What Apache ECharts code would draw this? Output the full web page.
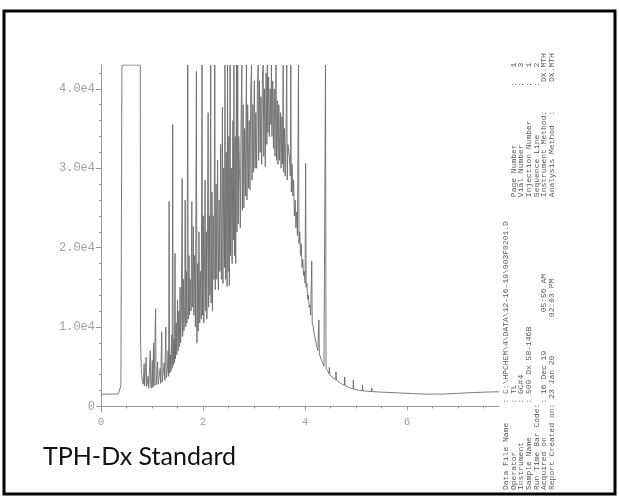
<!DOCTYPE html>
<html>
<head>
<meta charset="utf-8">
<script src="https://cdn.jsdelivr.net/npm/echarts@6/dist/echarts.min.js"></script>
<style>
html,body{margin:0;padding:0;background:#fff;}
#c{width:619px;height:499px;}
</style>
</head>
<body>
<div id="c"></div>
<script>
// ---- data (retention time in min, detector signal) ----
var times = [0.00,0.30,0.34,0.37,0.39,0.41,0.77,0.775,0.79,0.80,
0.81,0.83,0.845,0.855,0.87,0.885,0.895,0.91,0.925,0.935,0.95,0.965,0.975,0.99,1.005,1.015,1.03,1.04,1.055,1.07,1.08,1.095,1.11,1.12,1.14,1.16,1.17,1.19,1.20,1.22,1.24,1.25,1.27,1.28,1.30,1.315,1.325,1.335,1.345,1.36,1.37,1.385,1.395,1.405,1.415,1.43,1.44,1.45,1.46,1.475,1.485,1.50,1.51,1.525,1.535,1.55,1.56,1.575,1.59,1.60,1.615,1.625,1.64,1.65,1.66,1.675,1.685,1.70,1.71,1.725,1.735,1.75,1.765,1.78,1.79,1.81,1.82,1.835,1.85,1.87,1.88,1.895,1.905,1.92,1.935,1.95,1.965,1.98,1.99,2.005,2.015,2.03,2.04,2.05,2.065,2.075,2.09,2.10,2.11,2.125,2.135,2.15,2.16,2.175,2.185,2.20,2.215,2.23,2.24,2.255,2.27,2.285,2.30,2.315,2.33,2.345,2.36,2.38,2.39,2.405,2.42,2.43,2.44,2.455,2.47,2.48,2.49,2.505,2.515,2.53,2.54,2.555,2.57,2.585,2.595,2.605,2.615,2.63,2.64,2.655,2.665,2.68,2.69,2.70,2.72,2.73,2.745,2.76,2.77,2.785,2.80,2.815,2.83,2.85,2.86,2.875,2.89,2.905,2.92,2.935,2.95,2.96,2.975,2.99,3.005,3.02,3.035,3.05,3.065,3.08,3.09,3.105,3.12,3.135,3.15,3.165,3.18,3.19,3.205,3.22,3.235,3.25,3.26,3.27,3.285,3.30,3.315,3.33,3.34,3.35,3.365,3.38,3.395,3.41,3.43,3.44,3.455,3.47,3.485,3.50,3.515,3.53,3.545,3.56,3.57,3.58,3.595,3.61,3.625,3.64,3.65,3.665,3.68,3.695,3.71,3.72,3.73,3.745,3.76,3.775,3.79,3.805,3.82,3.835,3.85,3.87,3.88,3.895,3.91,3.925,3.94,3.955,3.97,3.985,4.00,4.01,4.02,4.035,4.05,4.065,4.08,4.095,4.11,4.13,4.14,4.16,4.18,4.20,4.22,4.25,4.27,4.28,4.31,4.34,4.37,4.39,4.40,4.41,4.44,4.47,4.475,4.485,4.53,4.60,4.605,4.615,4.70,4.77,4.775,4.785,4.87,4.94,4.945,4.955,5.05,5.12,5.125,5.135,5.22,5.30,5.305,5.315,5.50,5.80,6.10,6.40,6.70,7.00,7.30,7.60,7.80];
var signal = [1550,1550,1600,1800,2600,43000,43000,8000,4800,3900,
3200,2800,5400,2600,2400,6200,2500,2300,3800,2300,2200,7000,2600,2300,5800,2400,8000,2600,2500,12300,2700,2500,5600,2800,2700,4800,2900,9400,3100,3000,5500,3300,10000,3600,4500,7000,3800,25800,4200,6500,4400,9000,4800,35500,5200,8500,5500,19300,6000,10500,6500,13400,7000,12000,7500,15000,8000,11000,28700,8800,16000,9500,12500,26000,10000,17000,10500,43000,11000,19000,11500,16000,12000,25800,12500,22650,11500,19000,10000,42200,8000,18000,9500,22000,10500,17000,11000,43000,11500,24000,10500,19000,28500,12000,22000,11000,26000,37000,12500,24000,14000,43000,13000,27000,12000,24000,16000,43000,14700,28000,16000,31000,14700,26000,17000,33000,16000,37700,15500,30000,17500,43000,16000,32000,15100,43000,17000,34000,15200,43000,19000,30000,18000,36000,21000,43000,19000,34000,18000,43000,22000,43000,23000,34000,28100,22500,36000,43000,24700,38000,25000,35000,26500,43000,26000,38000,27500,36000,27300,40000,43000,28500,38000,29500,41000,30000,37000,30000,40000,43000,31000,41000,32000,39000,30500,42000,43000,31500,40000,30200,42000,33000,43000,34500,41500,34000,40000,35500,43000,34000,41000,32500,40000,31500,43000,31000,38500,30500,38000,31000,37000,30000,36500,30500,43000,29500,35000,29000,34000,43000,28500,33000,32000,31500,29000,43000,27000,30500,26500,28500,24000,26000,22500,24500,21500,43000,20500,22000,19000,20500,17500,18500,16500,17000,15500,30600,15000,15500,13500,14000,12500,12800,11500,18300,10500,10000,9000,8500,7800,7000,10900,6600,6000,5500,5100,4900,43000,4800,4500,4100,4900,4000,3700,3350,4350,3300,2900,2650,3700,2600,2350,2200,3340,2180,2050,1980,2700,1970,1920,1880,2330,1870,1800,1720,1620,1550,1560,1650,1750,1820,1850];

var yLabelValues = [0, 10000, 20000, 30000, 40000];
var yLabelTexts = ['0', '1.0e4', '2.0e4', '3.0e4', '4.0e4'];
var yMinorTicks = [0,2000,4000,6000,8000,10000,12000,14000,16000,18000,20000,22000,24000,26000,28000,30000,32000,34000,36000,38000,40000,42000];
var xLabelValues = [0, 2, 4, 6];
var xMinorTicks = [0,0.5,1,1.5,2,2.5,3,3.5,4,4.5,5,5.5,6,6.5,7,7.5];

var infoLines = [
 'Data File Name    : C:\\HPCHEM\\4\\DATA\\12-16-19\\003F0201.D',
 'Operator          : TL                                       Page Number            :   1',
 'Instrument        : GC#4                                     Vial Number            :   3',
 'Sample Name       : 500 Dx 58-146B                           Injection Number       :   1',
 'Run Time Bar Code:                                           Sequence Line          :   2',
 'Acquired on       : 16 Dec 19        05:56 AM                Instrument Method:      DX.MTH',
 'Report Created on: 23 Jan 20        02:03 PM                 Analysis Method  :      DX.MTH'
];
var titleText = 'TPH-Dx Standard';

// ---- chart ----
var chart = echarts.init(document.getElementById('c'), null, {renderer: 'canvas'});
var pts = times.map(function (t, i) { return [t, signal[i]]; });

var axisGray = '#9a9a9a';
var labelFont = {fontFamily: '"Liberation Mono", monospace', fontSize: 12, color: '#a0a0a0'};

var graphics = [
  {type: 'rect', shape: {x: 4, y: 11, width: 611, height: 483},
   style: {fill: 'none', stroke: '#000', lineWidth: 3}, z: 100},
  {type: 'text', x: 43, y: 469,
   style: {text: titleText, font: '25px Lato, "Noto Sans", sans-serif', fill: '#111',
           textAlign: 'left', textVerticalAlign: 'bottom', align: 'left', verticalAlign: 'alphabetic'}, z: 100}
];
infoLines.forEach(function (s, i) {
  graphics.push({type: 'text', x: 506 + i * 7.6, y: 490, rotation: Math.PI / 2,
    style: {text: s, font: '8px "Liberation Mono", monospace', fill: '#555',
            textAlign: 'left', textVerticalAlign: 'middle', align: 'left', verticalAlign: 'middle'}, z: 100});
});

chart.setOption({
  animation: false,
  backgroundColor: '#fff',
  grid: {left: 101, right: 120, top: 65, bottom: 87, containLabel: false},
  xAxis: [
    {type: 'value', min: 0, max: 7.8,
     axisLine: {show: true, lineStyle: {color: axisGray, width: 1}},
     axisTick: {show: true, customValues: xMinorTicks, length: 2, lineStyle: {color: axisGray}},
     axisLabel: Object.assign({show: true, customValues: xLabelValues, margin: 5,
       formatter: function (v) { return String(v); }}, labelFont, {fontSize: 11}),
     splitLine: {show: false}},
    {type: 'value', min: 0, max: 7.8, position: 'bottom',
     axisLine: {show: false},
     axisTick: {show: true, customValues: xLabelValues, length: 4, lineStyle: {color: axisGray}},
     axisLabel: {show: false}, splitLine: {show: false}}
  ],
  yAxis: [
    {type: 'value', min: -700, max: 43000,
     axisLine: {show: true, lineStyle: {color: axisGray, width: 1}},
     axisTick: {show: true, customValues: yMinorTicks, length: 2, lineStyle: {color: axisGray}},
     axisLabel: Object.assign({show: true, customValues: yLabelValues, margin: 6,
       formatter: function (v) { var i = yLabelValues.indexOf(v); return i >= 0 ? yLabelTexts[i] : ''; }}, labelFont),
     splitLine: {show: false}},
    {type: 'value', min: -700, max: 43000, position: 'left',
     axisLine: {show: false},
     axisTick: {show: true, customValues: yLabelValues, length: 5, lineStyle: {color: axisGray}},
     axisLabel: {show: false}, splitLine: {show: false}}
  ],
  series: [{
    type: 'line', data: pts, xAxisIndex: 0, yAxisIndex: 0,
    showSymbol: false, symbol: 'none', clip: true,
    lineStyle: {color: '#6c6c6c', width: 0.9},
    emphasis: {disabled: true}
  }],
  graphic: graphics
});
</script>
</body>
</html>
